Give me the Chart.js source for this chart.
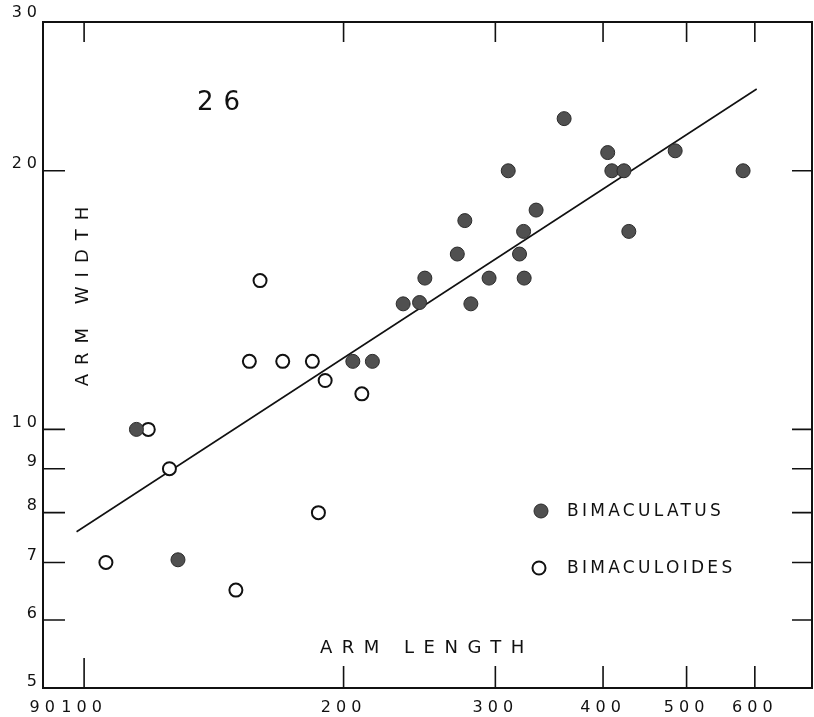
<!DOCTYPE html>
<html>
<head>
<meta charset="utf-8">
<script src="https://cdn.jsdelivr.net/npm/chart.js@4.4.1/dist/chart.umd.min.js"></script>
<style>
  body { margin: 0; background: #fff; }
  #wrap { width: 814px; height: 717px; }
</style>
</head>
<body>
<div id="wrap"><canvas id="armChart"></canvas></div>
<script>
'use strict';

// data (log-log, arm length vs arm width)
const bimaculatusLength = [115, 128.5, 205, 216, 234.5, 245, 248.5, 281, 271, 276.5, 295, 320, 323.5, 324, 334.5, 310.5, 360.5, 405, 409.5, 423, 428.5, 485, 581.5];
const bimaculatusWidth  = [10, 7.05, 12, 12, 14, 14.05, 15, 14, 16, 17.5, 15, 16, 17, 15, 18, 20, 23, 21, 20, 20, 17, 21.1, 20];

const bimaculoidesLength = [106, 118.7, 125.6, 150, 187, 160, 155.5, 170, 184, 190.4, 210];
const bimaculoidesWidth  = [7, 10, 9, 6.5, 8, 14.9, 12, 12, 12, 11.4, 11];

// fitted line end points
const fitLength = [98, 603];
const fitWidth  = [7.6, 24.9];

const xTicks = [90, 100, 200, 300, 400, 500, 600];
const yTicks = [5, 6, 7, 8, 9, 10, 20, 30];

const ink = '#111';
const fontFamily = '"DejaVu Sans", sans-serif';

function toPoints(xs, ys) {
  return xs.map((v, i) => ({ x: v, y: ys[i] }));
}

/**
 * frame, inward tick marks, titles and legend
 */

const decorations = {
  id: 'decorations',
  beforeDraw(chart) {
    chart.ctx.letterSpacing = '5px';
  },
  afterDraw(chart) {
    const ctx = chart.ctx;
    const a = chart.chartArea;
    const x = chart.scales.x;
    const y = chart.scales.y;

    ctx.save();
    ctx.strokeStyle = ink;
    ctx.lineWidth = 2;
    ctx.strokeRect(a.left, a.top, a.right - a.left, a.bottom - a.top);

    ctx.lineWidth = 1.6;
    ctx.beginPath();
    xTicks.filter(v => v >= 100).forEach(v => {
      const px = x.getPixelForValue(v);
      ctx.moveTo(px, a.top); ctx.lineTo(px, a.top + 20);
      ctx.moveTo(px, a.bottom); ctx.lineTo(px, a.bottom - (v === 100 ? 30 : 22));
    });
    yTicks.filter(v => v > 5 && v < 30).forEach(v => {
      const py = y.getPixelForValue(v);
      ctx.moveTo(a.left, py); ctx.lineTo(a.left + 22, py);
      ctx.moveTo(a.right, py); ctx.lineTo(a.right - 20, py);
    });
    ctx.stroke();

    ctx.fillStyle = ink;
    ctx.textBaseline = 'middle';

    // figure number
    ctx.font = '26px ' + fontFamily;
    ctx.letterSpacing = '10px';
    ctx.textAlign = 'left';
    ctx.fillText('26', 197, 103);

    // axis titles
    ctx.font = '18px ' + fontFamily;
    ctx.letterSpacing = '9.5px';
    ctx.fillText('ARM LENGTH', 320, 648);

    ctx.save();
    ctx.translate(83, 296);
    ctx.rotate(-Math.PI / 2);
    ctx.textAlign = 'center';
    ctx.letterSpacing = '9px';
    ctx.fillText('ARM WIDTH', 4, 0);
    ctx.restore();

    // legend
    const items = [
      { ds: chart.data.datasets[0], cx: 541, cy: 511 },
      { ds: chart.data.datasets[1], cx: 539, cy: 568 }
    ];
    ctx.font = '17px ' + fontFamily;
    ctx.letterSpacing = '3.3px';
    items.forEach(it => {
      ctx.beginPath();
      ctx.arc(it.cx, it.cy, it.ds.pointRadius, 0, Math.PI * 2);
      ctx.fillStyle = it.ds.backgroundColor;
      ctx.fill();
      ctx.lineWidth = it.ds.borderWidth;
      ctx.strokeStyle = it.ds.borderColor;
      ctx.stroke();
      ctx.fillStyle = ink;
      ctx.fillText(it.ds.label, 567, it.cy + 1);
    });
    ctx.restore();
  }
};

const ctx = document.getElementById('armChart').getContext('2d');
const armChart = new Chart(ctx, {
  type: 'scatter',
  data: {
    datasets: [
      {
        label: 'BIMACULATUS',
        data: toPoints(bimaculatusLength, bimaculatusWidth),
        backgroundColor: '#505050',
        borderColor: '#2a2a2a',
        borderWidth: 1,
        pointRadius: 7,
        pointHoverRadius: 7
      },
      {
        label: 'BIMACULOIDES',
        data: toPoints(bimaculoidesLength, bimaculoidesWidth),
        backgroundColor: '#fff',
        borderColor: ink,
        borderWidth: 2,
        pointRadius: 6.5,
        pointHoverRadius: 6.5
      },
      {
        label: 'fit',
        data: toPoints(fitLength, fitWidth),
        showLine: true,
        borderColor: ink,
        borderWidth: 1.6,
        pointRadius: 0,
        fill: false
      }
    ]
  },
  options: {
    responsive: true,
    maintainAspectRatio: false,
    animation: false,
    layout: { autoPadding: false, padding: { top: 22, right: 2, left: 0, bottom: 0 } },
    plugins: {
      legend: { display: false },
      tooltip: { enabled: false }
    },
    scales: {
      x: {
        type: 'logarithmic',
        min: 89.6,
        max: 699,
        grid: { display: false, drawTicks: false },
        border: { display: false },
        afterBuildTicks: (scale) => { scale.ticks = xTicks.map(v => ({ value: v })); },
        afterFit: (scale) => {
          scale.height = 29;
          scale.paddingLeft = 0;
          scale.paddingRight = 0;
        },
        ticks: {
          autoSkip: false,
          maxRotation: 0,
          padding: 10,
          color: ink,
          font: { family: fontFamily, size: 16 },
          callback: (v) => String(v)
        }
      },
      y: {
        type: 'logarithmic',
        min: 5,
        max: 29.8,
        grid: { display: false, drawTicks: false },
        border: { display: false },
        afterBuildTicks: (scale) => { scale.ticks = yTicks.map(v => ({ value: v })); },
        afterFit: (scale) => {
          scale.width = 43;
          scale.paddingTop = 0;
          scale.paddingBottom = 0;
        },
        ticks: {
          autoSkip: false,
          padding: 1,
          labelOffset: -6.5,
          color: ink,
          font: { family: fontFamily, size: 16 },
          callback: (v) => String(v)
        }
      }
    }
  },
  plugins: [decorations]
});
</script>
</body>
</html>
